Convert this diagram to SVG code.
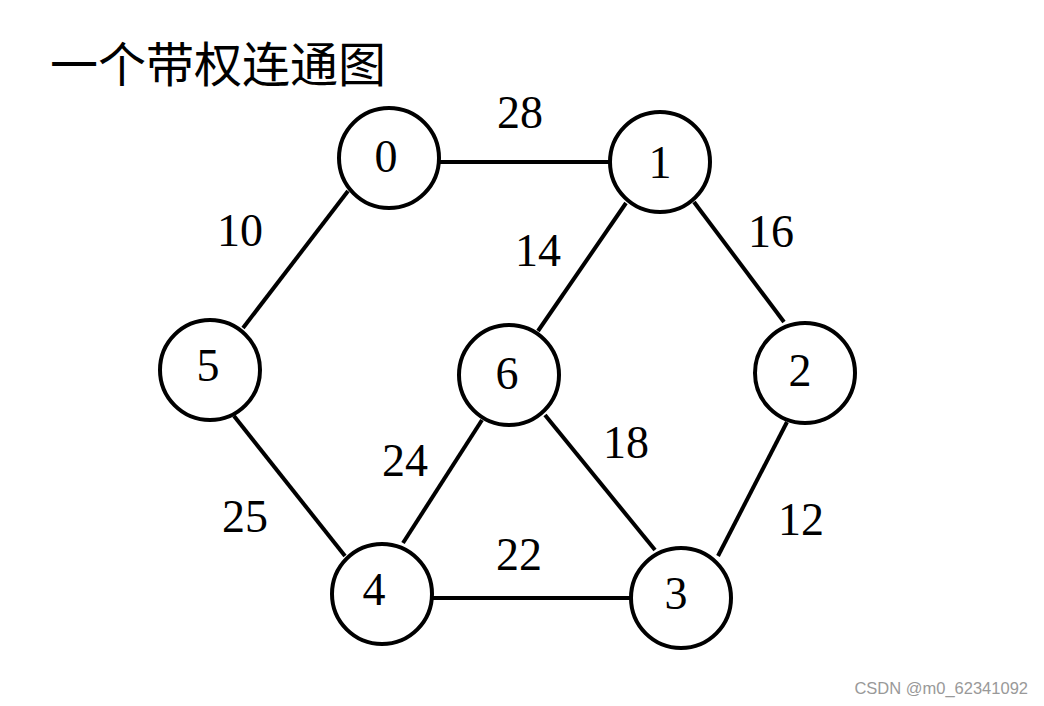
<svg xmlns="http://www.w3.org/2000/svg" width="1044" height="706" viewBox="0 0 1044 706">
<style>
.edge{stroke:#000;stroke-width:4;fill:none}
.node circle{fill:#fff;stroke:#000;stroke-width:4}
.lbl{font-family:"Liberation Serif","Times New Roman",serif;font-size:46px;fill:#000;text-anchor:middle}
.title{font-family:"Noto Sans CJK SC",sans-serif;font-size:48px;fill:#000}
.wm{font-family:"Liberation Sans",Arial,sans-serif;font-size:16.5px;fill:#999;text-anchor:end}
</style>
<rect width="1044" height="706" fill="#fff"/>
<text class="title" x="50" y="82">一个带权连通图</text>
<g id="connectors">
<line class="edge" x1="440" y1="162" x2="610" y2="162"/>
<line class="edge" x1="348" y1="191" x2="243" y2="328"/>
<line class="edge" x1="626" y1="203" x2="538" y2="331"/>
<line class="edge" x1="694" y1="202" x2="784" y2="322"/>
<line class="edge" x1="545" y1="415" x2="655" y2="550"/>
<line class="edge" x1="787" y1="422" x2="718" y2="556"/>
<line class="edge" x1="234" y1="416" x2="345" y2="556"/>
<line class="edge" x1="403" y1="543" x2="482" y2="420"/>
<line class="edge" x1="432" y1="598" x2="631" y2="598"/>
</g>
<g id="edge-labels">
<text class="lbl" x="520" y="128">28</text>
<text class="lbl" x="240" y="246">10</text>
<text class="lbl" x="538" y="266">14</text>
<text class="lbl" x="771" y="247">16</text>
<text class="lbl" x="405" y="476">24</text>
<text class="lbl" x="626" y="458">18</text>
<text class="lbl" x="519" y="570">22</text>
<text class="lbl" x="245" y="532">25</text>
<text class="lbl" x="801" y="535">12</text>
</g>
<g id="node0" class="node"><circle cx="389" cy="158" r="50"/><text class="lbl" x="386" y="172">0</text></g>
<g id="node1" class="node"><circle cx="660" cy="162" r="50"/><text class="lbl" x="660" y="178">1</text></g>
<g id="node2" class="node"><circle cx="805" cy="373" r="50"/><text class="lbl" x="800" y="386">2</text></g>
<g id="node3" class="node"><circle cx="681" cy="598" r="50"/><text class="lbl" x="676" y="609">3</text></g>
<g id="node4" class="node"><circle cx="382" cy="594" r="50"/><text class="lbl" x="374" y="605">4</text></g>
<g id="node5" class="node"><circle cx="210" cy="370" r="50"/><text class="lbl" x="208" y="381">5</text></g>
<g id="node6" class="node"><circle cx="509" cy="375" r="50"/><text class="lbl" x="507" y="389">6</text></g>
<text class="wm" x="1028" y="694">CSDN @m0_62341092</text>
</svg>
